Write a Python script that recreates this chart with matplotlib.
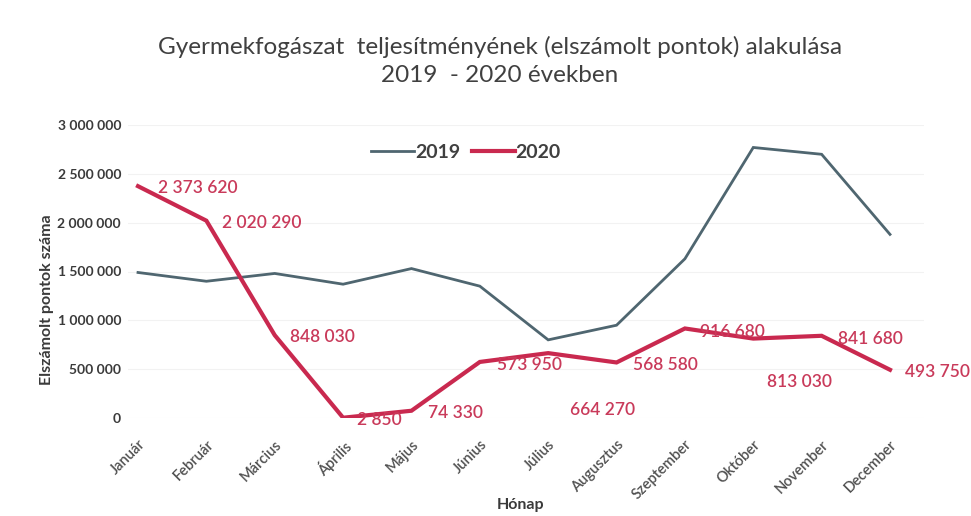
import matplotlib
matplotlib.use("Agg")
import matplotlib.pyplot as plt

months = ["Január", "Február", "Március", "Április", "Május", "Június", "Július",
          "Augusztus", "Szeptember", "Október", "November", "December"]
values_2019 = [1490000, 1400000, 1480000, 1370000, 1530000, 1350000, 800000,
               950000, 1630000, 2770000, 2700000, 1880000]
values_2020 = [2373620, 2020290, 848030, 2850, 74330, 573950, 664270,
               568580, 916680, 813030, 841680, 493750]
labels_2020 = ["2 373 620", "2 020 290", "848 030", "2 850", "74 330", "573 950",
               "664 270", "568 580", "916 680", "813 030", "841 680", "493 750"]
yticks = [0, 500000, 1000000, 1500000, 2000000, 2500000, 3000000]
ytick_labels = ["0", "500 000", "1 000 000", "1 500 000", "2 000 000", "2 500 000", "3 000 000"]

plt.rcParams['font.family'] = ['Lato', 'DejaVu Sans']

W, H = 971, 516
fig = plt.figure(figsize=(W / 100, H / 100), dpi=100)
ax_l, ax_r, ax_b, ax_t = 128, 924, 418, 125
ax = fig.add_axes([ax_l / W, 1 - ax_b / H, (ax_r - ax_l) / W, (ax_b - ax_t) / H])

c19 = "#4f6670"
c20 = "#c9294f"
x = list(range(len(months)))
ax.plot(x, values_2019, color=c19, lw=2, label="2019", solid_joinstyle='miter')
ax.plot(x, values_2020, color=c20, lw=3, label="2020", solid_joinstyle='miter')

# label offsets in pixels (dx, dy)
offsets = [(20, -2), (16, -2), (15, -2), (14, -2), (17, -2), (17, -3),
           (22, -57), (16, -3), (15, -4), (14, -43), (16, -3), (15, -2)]
for xi, v, lab, (dx, dy) in zip(x, values_2020, labels_2020, offsets):
    ax.annotate(lab, (xi, v), xytext=(dx, dy), textcoords='offset pixels',
                ha='left', va='center', color="#c93a5a", fontsize=12.5,
                fontweight='semibold')

span = 890 - 138
ax.set_xlim(-(138 - ax_l) * 11 / span, 11 + (ax_r - 890) * 11 / span)
ax.set_ylim(0, 3000000)
ax.set_yticks(yticks)
ax.set_yticklabels(ytick_labels, fontsize=10, fontweight='bold', color="#3a3a3a")
ax.set_xticks(x)
ax.set_xticklabels(months, rotation=45, ha='right', rotation_mode='anchor',
                   fontsize=10.5, fontweight='semibold', color="#505050")
ax.tick_params(axis='y', length=0, pad=5)
ax.tick_params(axis='x', length=0, pad=14)
ax.grid(axis='y', color='#f2f2f2', lw=0.8)
for s in ax.spines.values():
    s.set_visible(False)

ax.set_ylabel("Elszámolt pontok száma", fontsize=11.5, fontweight='bold', color="#3a3a3a")
ax.yaxis.set_label_coords(47 / W, 1 - 300 / H, transform=fig.transFigure)
ax.yaxis.label.set_va('center')
ax.set_xlabel("Hónap", fontsize=11.5, fontweight='bold', color="#3a3a3a")
ax.xaxis.set_label_coords(521 / W, 1 - 505 / H, transform=fig.transFigure)
ax.xaxis.label.set_va('center')

fig.text(500 / W, 1 - 47 / H, "Gyermekfogászat  teljesítményének (elszámolt pontok) alakulása",
         ha='center', va='center', fontsize=17.5, color="#404040")
fig.text(500 / W, 1 - 76 / H, "2019  - 2020 években", ha='center', va='center',
         fontsize=17.5, color="#404040")

leg = fig.legend(loc='center', bbox_to_anchor=(466 / W, 1 - 152 / H), ncol=2, frameon=False,
                 handlelength=2.2, handletextpad=0.05, columnspacing=0.6,
                 prop={'size': 14, 'weight': 'bold'})
for t in leg.get_texts():
    t.set_color("#404040")

fig.savefig("out.png", dpi=100, facecolor='white')
